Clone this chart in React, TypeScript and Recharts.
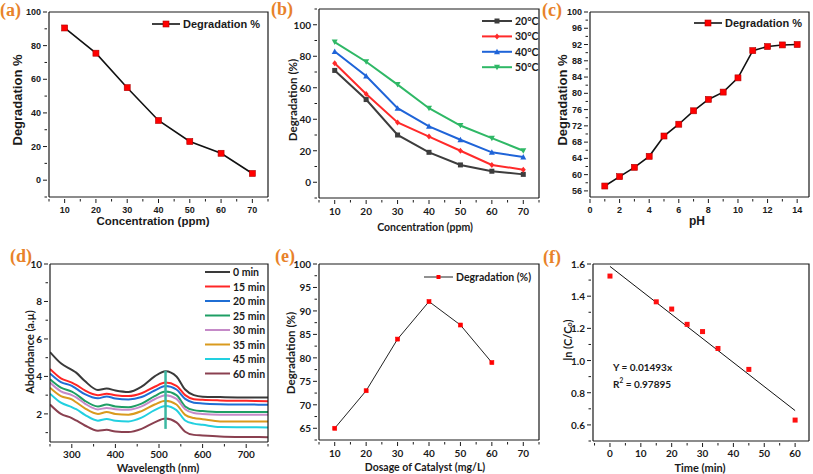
import React from "react"
import { LineChart, Line, XAxis, YAxis, ComposedChart, Scatter, ReferenceLine } from "recharts"

// (a) concentration effect
const concentration = [10, 20, 30, 40, 50, 60, 70]
const degradationA = [90.5, 75.5, 55, 35.5, 23, 16, 4]

// (b) temperature series
const temp20 = [71, 52.5, 30, 19, 11, 7, 5]
const temp30 = [75.5, 56, 38, 29, 20, 11, 8]
const temp40 = [83, 67.5, 47, 35.5, 27, 19, 16]
const temp50 = [89, 76.5, 62, 47, 36, 28, 20]

// (c) pH effect
const pH = [1, 2, 3, 4, 5, 6, 7, 8, 9, 10, 11, 12, 13, 14]
const degradationC = [57.2, 59.5, 61.8, 64.5, 69.5, 72.4, 75.7, 78.5, 80.3, 83.8, 90.5, 91.5, 91.9, 92.0]

// (d) UV-vis spectra
const wavelength = [250, 275, 300, 310, 330, 360, 380, 400, 430, 460, 490, 515, 540, 560, 580, 600, 640, 700, 750]
const abs0 = [5.3, 4.7, 4.35, 4.2, 3.75, 3.28, 3.35, 3.25, 3.17, 3.45, 4.0, 4.28, 4.0, 3.3, 3.0, 2.92, 2.9, 2.88, 2.88]
const abs15 = [4.4, 3.9, 3.67, 3.55, 3.25, 3.0, 3.08, 3.0, 2.95, 3.1, 3.45, 3.67, 3.5, 3.0, 2.78, 2.75, 2.72, 2.7, 2.68]
const abs20 = [4.16, 3.7, 3.5, 3.35, 3.05, 2.83, 2.93, 2.82, 2.77, 2.9, 3.25, 3.49, 3.3, 2.8, 2.6, 2.56, 2.52, 2.5, 2.49]
const abs25 = [3.85, 3.4, 3.19, 3.05, 2.7, 2.4, 2.5, 2.4, 2.36, 2.55, 2.95, 3.19, 3.0, 2.4, 2.2, 2.15, 2.1, 2.1, 2.1]
const abs30 = [3.67, 3.2, 3.0, 2.88, 2.55, 2.24, 2.32, 2.25, 2.22, 2.4, 2.78, 3.0, 2.8, 2.25, 2.05, 2.0, 1.96, 1.96, 1.96]
const abs35 = [3.4, 2.95, 2.77, 2.62, 2.3, 2.0, 2.1, 2.0, 1.96, 2.15, 2.5, 2.7, 2.5, 1.95, 1.78, 1.72, 1.6, 1.6, 1.6]
const abs45 = [3.08, 2.6, 2.36, 2.25, 1.95, 1.64, 1.73, 1.63, 1.6, 1.8, 2.2, 2.42, 2.2, 1.65, 1.48, 1.42, 1.3, 1.29, 1.28]
const abs60 = [2.5, 2.0, 1.78, 1.65, 1.38, 1.1, 1.15, 1.06, 1.03, 1.2, 1.55, 1.75, 1.55, 1.05, 0.88, 0.85, 0.8, 0.77, 0.76]
const spectraLabels = ["0 min", "15 min", "20 min", "25 min", "30 min", "35 min", "45 min", "60 min"]
const spectraColors = ["#3a3a3a", "#ff2626", "#1f6ed4", "#1e9e64", "#c58ac8", "#d99a1e", "#22d0e0", "#8a4050"]

// (e) catalyst dosage
const dosage = [10, 20, 30, 40, 50, 60]
const degradationE = [65, 73, 84, 92, 87, 79]

// (f) kinetics
const time = [0, 15, 20, 25, 30, 35, 45, 60]
const lnRatio = [1.525, 1.365, 1.32, 1.225, 1.18, 1.075, 0.945, 0.63]
const fitTime = [0, 60]
const fitValue = [1.585, 0.689]

const ARIAL = "'Liberation Sans', Arial, sans-serif"
const LATO = "Lato, 'Open Sans', sans-serif"
const ORANGE = "#E8822A"
const INK = "#1a1a1a"

const tickArial = { fontFamily: ARIAL, fontWeight: 700, fontSize: 9, fill: INK }
const tickLato = { fontFamily: LATO, fontWeight: 700, fontSize: 10, fill: INK }

type Plot = { left: number; top: number; width: number; height: number; x0: number; x1: number; y0: number; y1: number }

function geom(p: Plot) {
  return {
    width: p.width,
    height: p.height,
    margin: { top: p.y0 - p.top, right: p.left + p.width - p.x1, bottom: 0, left: 0 },
    yWidth: p.x0 - p.left,
    xHeight: p.top + p.height - p.y1,
  }
}

const PA: Plot = { left: 0, top: 0, width: 270, height: 232, x0: 49, x1: 268, y0: 12, y1: 197 }
const PB: Plot = { left: 270, top: 0, width: 270, height: 232, x0: 319, x1: 539, y0: 9, y1: 198 }
const PC: Plot = { left: 540, top: 0, width: 273, height: 232, x0: 590, x1: 809, y0: 12, y1: 197 }
const PD: Plot = { left: 0, top: 232, width: 270, height: 242, x0: 50, x1: 268, y0: 264, y1: 442 }
const PE: Plot = { left: 270, top: 232, width: 270, height: 242, x0: 319, x1: 539, y0: 264, y1: 440 }
const PF: Plot = { left: 540, top: 232, width: 273, height: 242, x0: 593, x1: 809, y0: 264, y1: 441 }

const near = (v: number, list: number[]) => list.some((m) => Math.abs(m - v) < 1e-6)

function xTick(style: any, majors: number[], gap: number, fmt?: (v: number) => string) {
  return (props: any) => {
    const { x, y, payload } = props
    const major = near(payload.value, majors)
    return (
      <g>
        <line x1={x} x2={x} y1={y} y2={y + (major ? 4 : 2.5)} stroke={INK} strokeWidth={1} />
        {major && (
          <text x={x} y={y + gap} textAnchor="middle" dominantBaseline="central" {...style}>
            {fmt ? fmt(payload.value) : payload.value}
          </text>
        )}
      </g>
    )
  }
}

function yTick(style: any, majors: number[], gap: number, fmt?: (v: number) => string) {
  return (props: any) => {
    const { x, y, payload } = props
    const major = near(payload.value, majors)
    return (
      <g>
        <line x1={x} x2={x - (major ? 4 : 2.5)} y1={y} y2={y} stroke={INK} strokeWidth={1} />
        {major && (
          <text x={x - gap} y={y} textAnchor="end" dominantBaseline="central" {...style}>
            {fmt ? fmt(payload.value) : payload.value}
          </text>
        )}
      </g>
    )
  }
}

function squareDot(size: number, fill = "#ff0000", stroke = "#b00000") {
  return (p: any) => (
    <rect key={`sq${p.index}`} x={p.cx - size / 2} y={p.cy - size / 2} width={size} height={size} fill={fill} stroke={stroke} strokeWidth={0.6} />
  )
}

function markerDot(kind: string, color: string, size = 5) {
  return (p: any) => {
    const { cx, cy, index } = p
    const h = size / 2
    if (kind === "square") return <rect key={`m${index}`} x={cx - h} y={cy - h} width={size} height={size} fill={color} />
    if (kind === "diamond")
      return <polygon key={`m${index}`} points={`${cx},${cy - h - 0.5} ${cx + h},${cy} ${cx},${cy + h + 0.5} ${cx - h},${cy}`} fill={color} />
    if (kind === "up") return <polygon key={`m${index}`} points={`${cx},${cy - h - 0.5} ${cx + h + 0.5},${cy + h} ${cx - h - 0.5},${cy + h}`} fill={color} />
    return <polygon key={`m${index}`} points={`${cx},${cy + h + 0.5} ${cx + h + 0.5},${cy - h} ${cx - h - 0.5},${cy - h}`} fill={color} />
  }
}

const dataA = concentration.map((x, i) => ({ x, y: degradationA[i] }))
const dataB = concentration.map((x, i) => ({ x, t20: temp20[i], t30: temp30[i], t40: temp40[i], t50: temp50[i] }))
const dataC = pH.map((x, i) => ({ x, y: degradationC[i] }))
const spectra = [abs0, abs15, abs20, abs25, abs30, abs35, abs45, abs60]
const dataD = wavelength.map((x, i) => {
  const row: any = { x }
  spectra.forEach((s, k) => (row[`s${k}`] = s[i]))
  return row
})
const dataE = dosage.map((x, i) => ({ x, y: degradationE[i] }))
const dataF = time.map((x, i) => ({ x, y: lnRatio[i] }))
const dataFit = fitTime.map((x, i) => ({ x, y: fitValue[i] }))

const tempSeries = [
  { key: "t20", label: "20°C", color: "#3d3d3d", marker: "square" },
  { key: "t30", label: "30°C", color: "#ff2a2a", marker: "diamond" },
  { key: "t40", label: "40°C", color: "#1f64d8", marker: "up" },
  { key: "t50", label: "50°C", color: "#2fb866", marker: "down" },
]

function Frame({ p }: { p: Plot }) {
  return (
    <g stroke={INK} strokeWidth={1.2} fill="none">
      <polyline points={`${p.x0},${p.y0} ${p.x1},${p.y0} ${p.x1},${p.y1}`} />
    </g>
  )
}

function YTitle({ x, y, text, font, size }: { x: number; y: number; text: React.ReactNode; font: string; size: number }) {
  return (
    <text x={x} y={y} transform={`rotate(-90 ${x} ${y})`} textAnchor="middle" dominantBaseline="central" fontFamily={font} fontWeight={700} fontSize={size} fill={INK}>
      {text}
    </text>
  )
}

function XTitle({ x, y, text, font, size }: { x: number; y: number; text: string; font: string; size: number }) {
  return (
    <text x={x} y={y} textAnchor="middle" dominantBaseline="central" fontFamily={font} fontWeight={700} fontSize={size} fill={INK}>
      {text}
    </text>
  )
}

function PanelTag({ x, y, text }: { x: number; y: number; text: string }) {
  return (
    <text x={x} y={y} fontFamily="'Liberation Serif', 'DejaVu Serif', serif" fontWeight={700} fontSize={18} fill={ORANGE}>
      {text}
    </text>
  )
}

const axisLine = { stroke: INK, strokeWidth: 1.2 }

export default function App() {
  const ga = geom(PA)
  const gb = geom(PB)
  const gc = geom(PC)
  const gd = geom(PD)
  const ge = geom(PE)
  const gf = geom(PF)

  const xTicks70 = [5, 10, 15, 20, 25, 30, 35, 40, 45, 50, 55, 60, 65, 70, 75]

  return (
    <div style={{ position: "absolute", left: 0, top: 0, width: 813, height: 474, background: "#fff", overflow: "hidden" }}>
      {/* (a) */}
      <div style={{ position: "absolute", left: PA.left, top: PA.top }}>
        <LineChart width={ga.width} height={ga.height} margin={ga.margin} data={dataA}>
          <XAxis type="number" dataKey="x" domain={[5, 75]} allowDataOverflow ticks={xTicks70} interval={0} height={ga.xHeight} tickSize={0} tickLine={false} axisLine={axisLine} tick={xTick(tickArial, concentration, 11)} />
          <YAxis type="number" domain={[-10, 100]} allowDataOverflow ticks={[-10, 0, 10, 20, 30, 40, 50, 60, 70, 80, 90, 100]} interval={0} width={ga.yWidth} tickSize={0} tickLine={false} axisLine={axisLine} tick={yTick(tickArial, [0, 20, 40, 60, 80, 100], 6)} />
          <Line type="linear" dataKey="y" stroke="#111" strokeWidth={1.6} dot={squareDot(6)} isAnimationActive={false} />
        </LineChart>
      </div>

      {/* (b) */}
      <div style={{ position: "absolute", left: PB.left, top: PB.top }}>
        <LineChart width={gb.width} height={gb.height} margin={gb.margin} data={dataB}>
          <XAxis type="number" dataKey="x" domain={[5, 75]} allowDataOverflow ticks={xTicks70} interval={0} height={gb.xHeight} tickSize={0} tickLine={false} axisLine={axisLine} tick={xTick(tickLato, concentration, 11)} />
          <YAxis type="number" domain={[-10, 110]} allowDataOverflow ticks={[-10, 0, 10, 20, 30, 40, 50, 60, 70, 80, 90, 100, 110]} interval={0} width={gb.yWidth} tickSize={0} tickLine={false} axisLine={axisLine} tick={yTick(tickLato, [0, 20, 40, 60, 80, 100], 6)} />
          {tempSeries.map((s) => (
            <Line key={s.key} type="linear" dataKey={s.key} stroke={s.color} strokeWidth={2} dot={markerDot(s.marker, s.color)} isAnimationActive={false} />
          ))}
        </LineChart>
      </div>

      {/* (c) */}
      <div style={{ position: "absolute", left: PC.left, top: PC.top }}>
        <LineChart width={gc.width} height={gc.height} margin={gc.margin} data={dataC}>
          <XAxis type="number" dataKey="x" domain={[0, 14.8]} allowDataOverflow ticks={[0, 1, 2, 3, 4, 5, 6, 7, 8, 9, 10, 11, 12, 13, 14]} interval={0} height={gc.xHeight} tickSize={0} tickLine={false} axisLine={axisLine} tick={xTick(tickArial, [0, 2, 4, 6, 8, 10, 12, 14], 11)} />
          <YAxis type="number" domain={[54.5, 100]} allowDataOverflow ticks={[56, 58, 60, 62, 64, 66, 68, 70, 72, 74, 76, 78, 80, 82, 84, 86, 88, 90, 92, 94, 96, 98, 100]} interval={0} width={gc.yWidth} tickSize={0} tickLine={false} axisLine={axisLine} tick={yTick(tickArial, [56, 60, 64, 68, 72, 76, 80, 84, 88, 92, 96, 100], 6)} />
          <Line type="linear" dataKey="y" stroke="#111" strokeWidth={1.6} dot={squareDot(6)} isAnimationActive={false} />
        </LineChart>
      </div>

      {/* (d) */}
      <div style={{ position: "absolute", left: PD.left, top: PD.top }}>
        <LineChart width={gd.width} height={gd.height} margin={gd.margin} data={dataD}>
          <XAxis type="number" dataKey="x" domain={[250, 750]} allowDataOverflow ticks={[250, 300, 350, 400, 450, 500, 550, 600, 650, 700, 750]} interval={0} height={gd.xHeight} tickSize={0} tickLine={false} axisLine={axisLine} tick={xTick(tickLato, [300, 400, 500, 600, 700], 10)} />
          <YAxis type="number" domain={[0.5, 10]} allowDataOverflow ticks={[1, 2, 3, 4, 5, 6, 7, 8, 9, 10]} interval={0} width={gd.yWidth} tickSize={0} tickLine={false} axisLine={axisLine} tick={yTick(tickLato, [2, 4, 6, 8, 10], 6)} />
          {spectra.map((_, k) => (
            <Line key={k} type="monotone" dataKey={`s${k}`} stroke={spectraColors[k]} strokeWidth={2} dot={false} isAnimationActive={false} />
          ))}
          <ReferenceLine segment={[{ x: 515, y: 1.2 }, { x: 515, y: 4.3 }]} stroke="#3cb8a2" strokeWidth={2.5} ifOverflow="visible" />
        </LineChart>
      </div>

      {/* (e) */}
      <div style={{ position: "absolute", left: PE.left, top: PE.top }}>
        <LineChart width={ge.width} height={ge.height} margin={ge.margin} data={dataE}>
          <XAxis type="number" dataKey="x" domain={[5, 75]} allowDataOverflow ticks={xTicks70} interval={0} height={ge.xHeight} tickSize={0} tickLine={false} axisLine={axisLine} tick={xTick(tickLato, concentration, 11)} />
          <YAxis type="number" domain={[62.5, 100]} allowDataOverflow ticks={[62.5, 65, 67.5, 70, 72.5, 75, 77.5, 80, 82.5, 85, 87.5, 90, 92.5, 95, 97.5, 100]} interval={0} width={ge.yWidth} tickSize={0} tickLine={false} axisLine={axisLine} tick={yTick(tickLato, [65, 70, 75, 80, 85, 90, 95, 100], 6)} />
          <Line type="linear" dataKey="y" stroke="#222" strokeWidth={1} dot={squareDot(4, "#ff0000", "#ff0000")} isAnimationActive={false} />
        </LineChart>
      </div>

      {/* (f) */}
      <div style={{ position: "absolute", left: PF.left, top: PF.top }}>
        <ComposedChart width={gf.width} height={gf.height} margin={gf.margin}>
          <XAxis type="number" dataKey="x" domain={[-5.5, 64.5]} allowDataOverflow ticks={[-5, 0, 5, 10, 15, 20, 25, 30, 35, 40, 45, 50, 55, 60]} interval={0} height={gf.xHeight} tickSize={0} tickLine={false} axisLine={axisLine} tick={xTick(tickLato, [0, 10, 20, 30, 40, 50, 60], 10)} />
          <YAxis type="number" dataKey="y" domain={[0.5, 1.6]} allowDataOverflow ticks={[0.5, 0.6, 0.7, 0.8, 0.9, 1.0, 1.1, 1.2, 1.3, 1.4, 1.5, 1.6]} interval={0} width={gf.yWidth} tickSize={0} tickLine={false} axisLine={axisLine} tick={yTick(tickLato, [0.6, 0.8, 1.0, 1.2, 1.4, 1.6], 6, (v) => v.toFixed(1))} />
          <Line data={dataFit} type="linear" dataKey="y" stroke="#111" strokeWidth={1} dot={false} isAnimationActive={false} />
          <Scatter data={dataF} fill="#ff0000" isAnimationActive={false} shape={(p: any) => <rect x={p.cx - 2.5} y={p.cy - 2.5} width={5} height={5} fill="#ff1010" />} />
        </ComposedChart>
      </div>

      {/* frames, titles, legends, annotations */}
      <svg width={813} height={474} style={{ position: "absolute", left: 0, top: 0, pointerEvents: "none" }}>
        {[PA, PB, PC, PD, PE, PF].map((p, i) => (
          <Frame key={i} p={p} />
        ))}

        <PanelTag x={0} y={16} text="(a)" />
        <PanelTag x={271} y={15} text="(b)" />
        <PanelTag x={542} y={16} text="(c)" />
        <PanelTag x={10} y={262} text="(d)" />
        <PanelTag x={275} y={262} text="(e)" />
        <PanelTag x={543} y={263} text="(f)" />

        <YTitle x={17} y={100} text="Degradation %" font={ARIAL} size={13} />
        <XTitle x={153} y={221} text="Concentration (ppm)" font={ARIAL} size={11.5} />
        <YTitle x={292} y={100} text="Degradation (%)" font={LATO} size={11.5} />
        <XTitle x={425} y={227} text="Concentration (ppm)" font={LATO} size={10.5} />
        <YTitle x={562} y={100} text="Degradation %" font={ARIAL} size={13} />
        <XTitle x={697} y={221} text="pH" font={ARIAL} size={12} />
        <YTitle x={29} y={352} text="Abdorbance (a.µ)" font={LATO} size={11} />
        <XTitle x={158} y={467} text="Wavelength (nm)" font={LATO} size={11} />
        <YTitle x={290} y={353} text="Degradation (%)" font={LATO} size={11.5} />
        <XTitle x={425} y={467} text="Dosage of Catalyst (mg/L)" font={LATO} size={10.5} />
        <YTitle
          x={567}
          y={340}
          text={
            <>
              ln (C/C<tspan fontSize={7} dy={2}>o</tspan>
              <tspan dy={-2}>)</tspan>
            </>
          }
          font={LATO}
          size={11}
        />
        <XTitle x={700} y={467} text="Time (min)" font={LATO} size={11} />

        {/* legend (a) */}
        <line x1={152} x2={180} y1={24} y2={24} stroke="#111" strokeWidth={1.6} />
        <rect x={163} y={21} width={6} height={6} fill="#ff0000" stroke="#b00000" strokeWidth={0.6} />
        <text x={183} y={24} dominantBaseline="central" fontFamily={ARIAL} fontWeight={700} fontSize={11} fill={INK}>Degradation %</text>

        {/* legend (b) */}
        {tempSeries.map((s, i) => {
          const y = 21 + i * 15.4
          const draw: any = markerDot(s.marker, s.color)
          return (
            <g key={s.key}>
              <line x1={482} x2={512} y1={y} y2={y} stroke={s.color} strokeWidth={2} />
              {draw({ cx: 497, cy: y, index: i })}
              <text x={515} y={y} dominantBaseline="central" fontFamily={LATO} fontWeight={700} fontSize={10.5} fill={INK}>{s.label}</text>
            </g>
          )
        })}

        {/* legend (c) */}
        <line x1={694} x2={722} y1={23} y2={23} stroke="#111" strokeWidth={1.6} />
        <rect x={705} y={20} width={6} height={6} fill="#ff0000" stroke="#b00000" strokeWidth={0.6} />
        <text x={725} y={23} dominantBaseline="central" fontFamily={ARIAL} fontWeight={700} fontSize={11} fill={INK}>Degradation %</text>

        {/* legend (d) */}
        {spectraLabels.map((label, i) => {
          const y = 272 + i * 14.5
          return (
            <g key={label}>
              <line x1={205} x2={230} y1={y} y2={y} stroke={spectraColors[i]} strokeWidth={2} />
              <text x={233} y={y} dominantBaseline="central" fontFamily={LATO} fontWeight={700} fontSize={10.5} fill={INK}>{label}</text>
            </g>
          )
        })}

        {/* legend (e) */}
        <line x1={424} x2={453} y1={277} y2={277} stroke="#222" strokeWidth={1} />
        <rect x={436.5} y={275} width={4} height={4} fill="#ff0000" />
        <text x={456} y={277} dominantBaseline="central" fontFamily={LATO} fontWeight={700} fontSize={10.5} fill={INK}>Degradation (%)</text>

        {/* fit annotation (f) */}
        <text x={613} y={367} dominantBaseline="central" fontFamily={LATO} fontWeight={700} fontSize={10} fill={INK}>Y = 0.01493x</text>
        <text x={613} y={384} dominantBaseline="central" fontFamily={LATO} fontWeight={700} fontSize={10} fill={INK}>
          R<tspan fontSize={6.5} dy={-4}>2</tspan>
          <tspan dy={4}> = 0.97895</tspan>
        </text>
      </svg>
    </div>
  )
}
